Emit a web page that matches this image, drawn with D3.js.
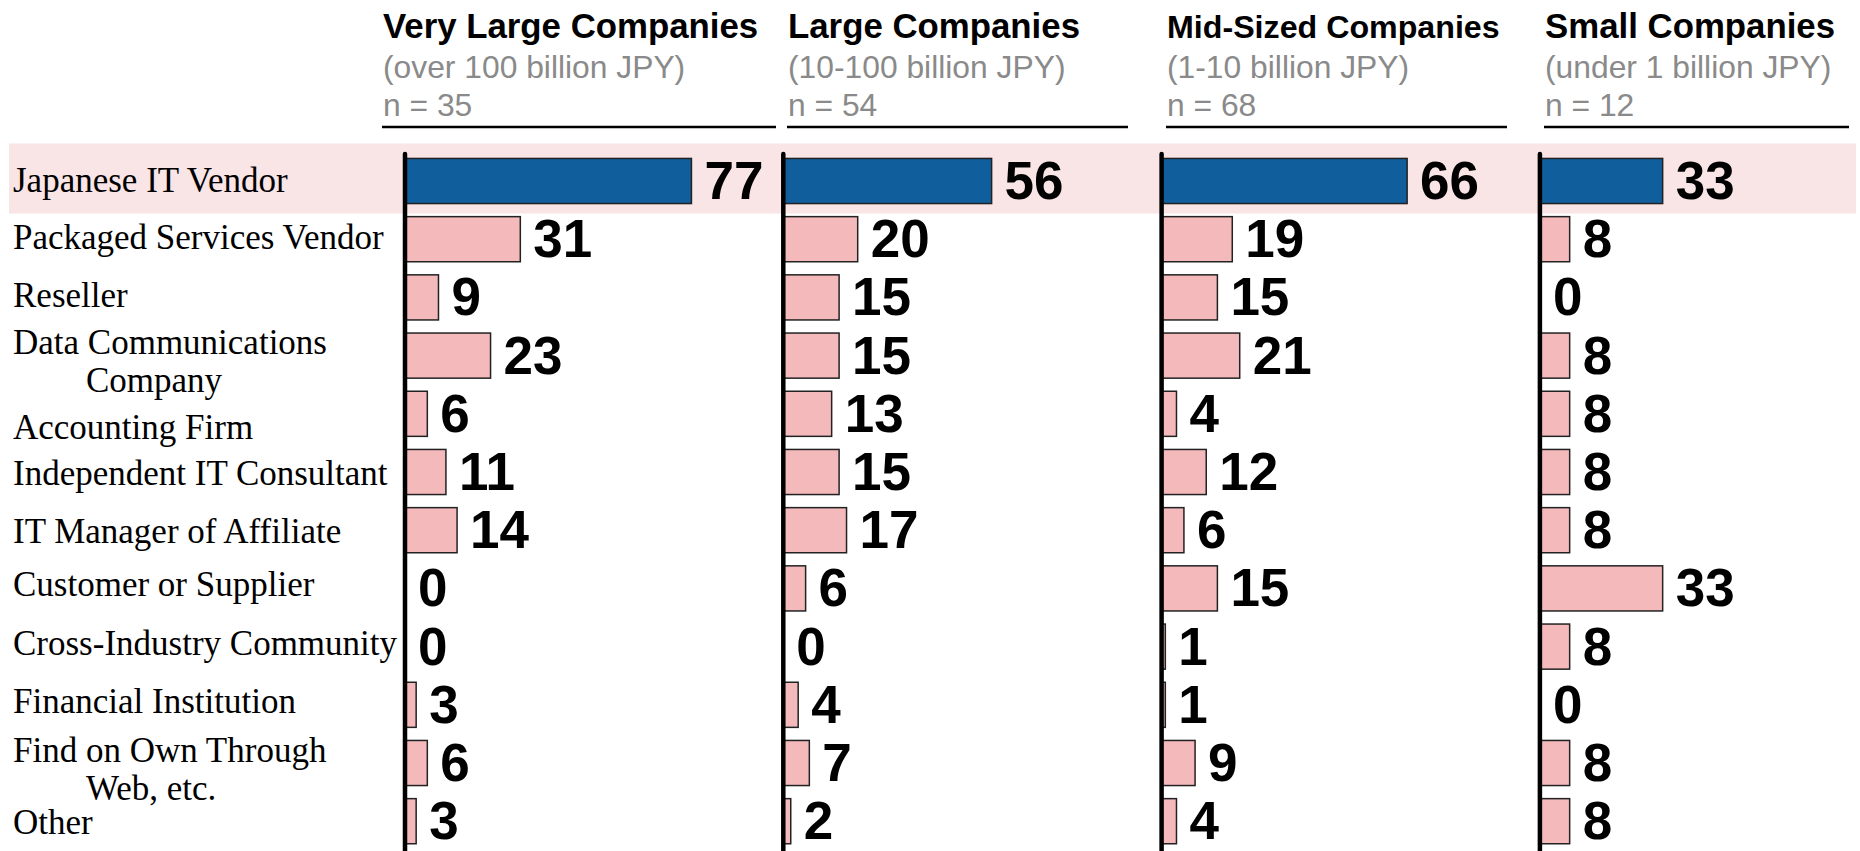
<!DOCTYPE html>
<html>
<head>
<meta charset="utf-8">
<script src="https://cdn.jsdelivr.net/npm/d3@7"></script>
<style>
  body { margin: 0; background: #fff; }
  svg { display: block; }
</style>
</head>
<body>
<svg id="chart"></svg>
<script>
// source types (rows), second line of a label after "\n"
const categories = [
  'Japanese IT Vendor',
  'Packaged Services Vendor',
  'Reseller',
  'Data Communications\nCompany',
  'Accounting Firm',
  'Independent IT Consultant',
  'IT Manager of Affiliate',
  'Customer or Supplier',
  'Cross-Industry Community',
  'Financial Institution',
  'Find on Own Through\nWeb, etc.',
  'Other'
];

const segments = ['Very Large Companies', 'Large Companies', 'Mid-Sized Companies', 'Small Companies'];
const segmentRanges = ['(over 100 billion JPY)', '(10-100 billion JPY)', '(1-10 billion JPY)', '(under 1 billion JPY)'];
const sampleSizes = [35, 54, 68, 12];

const veryLargeValues = [77, 31, 9, 23, 6, 11, 14, 0, 0, 3, 6, 3];
const largeValues     = [56, 20, 15, 15, 13, 15, 17, 6, 0, 4, 7, 2];
const midValues       = [66, 19, 15, 21, 4, 12, 6, 15, 1, 1, 9, 4];
const smallValues     = [33, 8, 0, 8, 8, 8, 8, 33, 8, 0, 8, 8];

const seriesValues = [veryLargeValues, largeValues, midValues, smallValues];

// layout
const width = 1860, height = 851;
const panelStart = 405, panelStep = 378.3;
const headerLeft = [382, 787, 1166, 1544];
const headerRight = [776, 1128, 1507, 1849];
const titleSize = [34.8, 34.8, 32.2, 34.8];
// baseline nudges of the row labels relative to the row centre
const labelNudge = [11, 10, 10, -2, 25, 13, 13, 8, 8, 8, -1, 13];

const blue = '#115e9c', pink = '#f3b9bb', highlight = '#f9e4e6';
const sans = "'Liberation Sans', Arial, sans-serif";
const serif = "'Liberation Serif', 'Times New Roman', serif";

const svg = d3.select('#chart')
  .attr('width', width)
  .attr('height', height);

const x = d3.scaleLinear().domain([0, 100]).range([0, 372]);
const y = d3.scaleBand()
  .domain(categories)
  .range([151.9, 850.3])
  .paddingInner(0.225)
  .paddingOuter(0.1125);

// highlight the first row across the whole chart
svg.append('rect')
  .attr('x', 9)
  .attr('y', y(categories[0]) - 15)
  .attr('width', 1847)
  .attr('height', y.bandwidth() + 25)
  .attr('fill', highlight);

// row labels
const labels = svg.append('g')
  .attr('font-family', serif)
  .attr('font-size', 35)
  .attr('fill', '#000');

categories.forEach((cat, i) => {
  const lines = cat.split('\n');
  const cy = y(cat) + y.bandwidth() / 2 + labelNudge[i];
  const t = labels.append('text').attr('y', cy);
  lines.forEach((line, j) => {
    t.append('tspan')
      .attr('x', j === 0 ? 13 : 86)
      .attr('dy', j === 0 ? 0 : 38)
      .text(line);
  });
});

// panels
segments.forEach((seg, p) => {
  const x0 = panelStart + p * panelStep;
  const g = svg.append('g');

  // header block
  const hx = headerLeft[p];
  g.append('text')
    .attr('x', hx + 1).attr('y', 38)
    .attr('font-family', sans).attr('font-weight', 'bold')
    .attr('font-size', titleSize[p])
    .text(seg);
  g.append('text')
    .attr('x', hx + 1).attr('y', 78)
    .attr('font-family', sans).attr('font-size', 31.8)
    .attr('fill', '#8a8a8a')
    .text(segmentRanges[p]);
  g.append('text')
    .attr('x', hx + 1).attr('y', 116)
    .attr('font-family', sans).attr('font-size', 31.8)
    .attr('fill', '#8a8a8a')
    .text('n = ' + sampleSizes[p]);
  g.append('line')
    .attr('x1', hx).attr('x2', headerRight[p])
    .attr('y1', 127).attr('y2', 127)
    .attr('stroke', '#000').attr('stroke-width', 2.5);

  const rows = categories.map((c, i) => ({ cat: c, value: seriesValues[p][i], first: i === 0 }));

  g.selectAll('rect.bar')
    .data(rows.filter(d => d.value > 0))
    .join('rect')
    .attr('class', 'bar')
    .attr('x', x0 + x(0))
    .attr('y', d => y(d.cat))
    .attr('width', d => x(d.value))
    .attr('height', y.bandwidth())
    .attr('fill', d => d.first ? blue : pink)
    .attr('stroke', '#222')
    .attr('stroke-width', 1.5);

  g.selectAll('text.value')
    .data(rows)
    .join('text')
    .attr('class', 'value')
    .attr('x', d => x0 + x(d.value) + 13)
    .attr('y', d => y(d.cat) + y.bandwidth() / 2)
    .attr('dy', '0.34em')
    .attr('font-family', sans)
    .attr('font-weight', 'bold')
    .attr('font-size', 53)
    .text(d => d.value);

  // vertical baseline
  g.append('line')
    .attr('x1', x0).attr('x2', x0)
    .attr('y1', 154).attr('y2', height + 5)
    .attr('stroke', '#000')
    .attr('stroke-width', 4.5)
    .attr('stroke-linecap', 'round');
});
</script>
</body>
</html>
